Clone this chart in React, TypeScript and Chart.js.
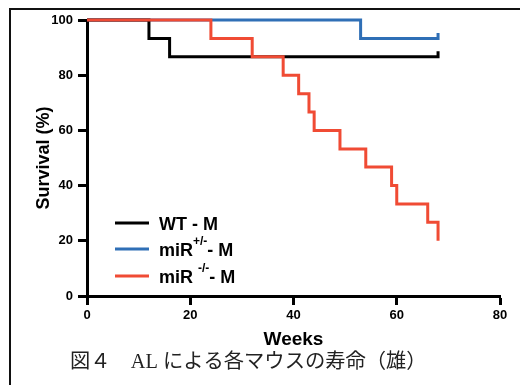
import React, { useEffect, useRef } from "react";
import { Chart, registerables } from "chart.js";

Chart.register(...registerables);

// Kaplan-Meier step data (weeks, survival %)
const wtWeeks = [0, 12, 16, 68];
const wtSurvival = [100, 93.3, 86.7, 86.7];
const hetWeeks = [0, 53, 68];
const hetSurvival = [100, 93.3, 93.3];
const koWeeks = [0, 24, 32, 38, 41, 43, 44, 49, 54, 59, 60, 66, 68];
const koSurvival = [100, 93.3, 86.7, 80, 73.3, 66.7, 60, 53.3, 46.7, 40, 33.3, 26.7, 20];

// censor marks at end of follow-up (week, survival top of tick)
const wtCensor = [68, 88.7];
const hetCensor = [68, 95.3];

const xTicks = [0, 20, 40, 60, 80];
const yTicks = [0, 20, 40, 60, 80, 100];

const legendBase = ["WT - M", "miR", "miR "];
const legendSup = ["", "+/-", "-/-"];
const legendSuffix = ["", "- M", "- M"];
const legendColors = ["#000000", "#2f6fb6", "#f04b34"];

const caption = "図４　AL による各マウスの寿命（雄）";

function pts(xs: number[], ys: number[], censor?: number[]) {
  const p = xs.map((x, i) => ({ x, y: ys[i] }));
  if (censor) p.push({ x: censor[0], y: censor[1] });
  return p;
}

export default function App() {
  const ref = useRef<HTMLCanvasElement>(null);
  useEffect(() => {
    if (!ref.current) return;
    const decor = {
      id: "decor",
      beforeDraw(chart: any) {
        const ctx = chart.ctx;
        ctx.save();
        ctx.fillStyle = "#fff";
        ctx.fillRect(0, 0, chart.width, chart.height);
        ctx.strokeStyle = "#111";
        ctx.lineWidth = 2;
        ctx.beginPath();
        ctx.moveTo(520, 9);
        ctx.lineTo(10, 9);
        ctx.lineTo(10, 385);
        ctx.stroke();
        ctx.restore();
      },
      afterDraw(chart: any) {
        const ctx = chart.ctx;
        ctx.save();
        const lx0 = 115, lx1 = 149, tx = 159;
        const rows = [223, 249, 276];
        legendBase.forEach((b, i) => {
          const y = rows[i];
          ctx.strokeStyle = legendColors[i];
          ctx.lineWidth = 3;
          ctx.beginPath();
          ctx.moveTo(lx0, y);
          ctx.lineTo(lx1, y);
          ctx.stroke();
          ctx.fillStyle = "#000";
          ctx.textBaseline = "alphabetic";
          ctx.font = "bold 18px 'Liberation Sans', Arial, sans-serif";
          const base = y + 6.5;
          ctx.fillText(b, tx, base);
          let x = tx + ctx.measureText(b).width;
          if (legendSup[i]) {
            ctx.font = "bold 12px 'Liberation Sans', Arial, sans-serif";
            ctx.fillText(legendSup[i], x, base - 11);
            x += ctx.measureText(legendSup[i]).width;
            ctx.font = "bold 18px 'Liberation Sans', Arial, sans-serif";
            ctx.fillText(legendSuffix[i], x, base);
          }
        });
        ctx.fillStyle = "#222";
        ctx.font = "20.3px 'Liberation Serif', 'Noto Sans CJK JP', serif";
        ctx.textBaseline = "middle";
        ctx.fillText(caption, 70, 363);
        ctx.restore();
      },
    };
    const chart = new Chart(ref.current, {
      type: "line",
      data: {
        datasets: [
          {
            label: "miR -/- - M",
            data: pts(koWeeks, koSurvival),
            borderColor: legendColors[2],
            borderWidth: 3,
            stepped: "before",
            pointRadius: 0,
            fill: false,
            clip: false,
            order: 0,
          },
          {
            label: "WT - M",
            data: pts(wtWeeks, wtSurvival, wtCensor),
            borderColor: legendColors[0],
            borderWidth: 3,
            stepped: "before",
            pointRadius: 0,
            fill: false,
            clip: false,
            order: 1,
          },
          {
            label: "miR +/- - M",
            data: pts(hetWeeks, hetSurvival, hetCensor),
            borderColor: legendColors[1],
            borderWidth: 3,
            stepped: "before",
            pointRadius: 0,
            fill: false,
            clip: false,
            order: 2,
          },
        ],
      },
      options: {
        animation: false,
        responsive: false,
        layout: { padding: { top: 20, right: 20, left: 0, bottom: 0 } },
        plugins: { legend: { display: false }, tooltip: { enabled: false } },
        scales: {
          x: {
            type: "linear",
            min: 0,
            max: 80,
            afterBuildTicks: (s: any) => {
              s.ticks = xTicks.map((v) => ({ value: v }));
            },
            afterFit: (s: any) => {
              s.height = 89;
            },
            ticks: {
              color: "#000",
              padding: 3,
              font: { family: "'Liberation Sans', Arial, sans-serif", size: 13, weight: "bold" },
            },
            grid: {
              drawOnChartArea: false,
              drawTicks: true,
              tickLength: 9,
              tickColor: "#000",
              tickWidth: 3,
            },
            border: { display: true, color: "#000", width: 3 },
            title: {
              display: true,
              text: "Weeks",
              color: "#000",
              font: { family: "'Liberation Sans', Arial, sans-serif", size: 19, weight: "bold" },
              padding: { top: 0, bottom: 34 },
            },
          },
          y: {
            type: "linear",
            min: 0,
            max: 100,
            afterBuildTicks: (s: any) => {
              s.ticks = yTicks.map((v) => ({ value: v }));
            },
            afterFit: (s: any) => {
              s.width = 87;
            },
            ticks: {
              color: "#000",
              padding: 5,
              font: { family: "'Liberation Sans', Arial, sans-serif", size: 13, weight: "bold" },
            },
            grid: {
              drawOnChartArea: false,
              drawTicks: true,
              tickLength: 9,
              tickColor: "#000",
              tickWidth: 3,
            },
            border: { display: true, color: "#000", width: 3 },
            title: {
              display: true,
              text: "Survival (%)",
              color: "#000",
              font: { family: "'Liberation Sans', Arial, sans-serif", size: 18, weight: "bold" },
              padding: { top: 33, bottom: 0 },
            },
          },
        },
      },
      plugins: [decor],
    } as any);
    return () => chart.destroy();
  }, []);
  return (
    <div style={{ position: "fixed", left: 0, top: 0, width: 520, height: 385 }}>
      <canvas ref={ref} width={520} height={385} style={{ display: "block" }} />
    </div>
  );
}
